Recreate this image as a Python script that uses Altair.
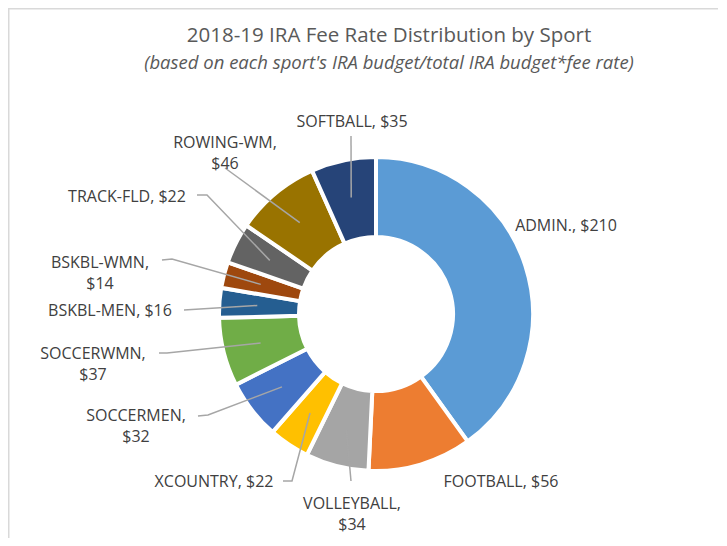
import math
import pandas as pd
import altair as alt

# ---- data ----
sports = ["ADMIN.", "FOOTBALL", "VOLLEYBALL", "XCOUNTRY", "SOCCERMEN", "SOCCERWMN",
          "BSKBL-MEN", "BSKBL-WMN", "TRACK-FLD", "ROWING-WM", "SOFTBALL"]
fees = [210, 56, 34, 22, 32, 37, 16, 14, 22, 46, 35]
colors = ["#5B9BD5", "#ED7D31", "#A5A5A5", "#FFC000", "#4472C4", "#70AD47",
          "#255E91", "#9E480E", "#636363", "#997300", "#264478"]

title = "2018-19 IRA Fee Rate Distribution by Sport"
subtitle = "(based on each sport's IRA budget/total IRA budget*fee rate)"

# ---- layout (pixels, relative to donut centre) ----
W, H = 710, 530
CX, CY = 368, 306
R_OUT, R_IN, R_LEAD = 157, 77, 119
FONT = "Open Sans"

# label centre (dx, dy), wrapped?, leader start, leader elbow
LABEL_LAYOUT = {
    "ADMIN.":     ((190, -88), False, None, None),
    "FOOTBALL":   ((125, 168), False, None, None),
    "VOLLEYBALL": ((-24, 190), True, (-25, 167), None),
    "XCOUNTRY":   ((-162, 168), False, (-93, 167), (-84, 167)),
    "SOCCERMEN":  ((-240, 102), True, (-178, 102), (-168, 101)),
    "SOCCERWMN":  ((-283, 40), True, (-217, 39), (-209, 39)),
    "BSKBL-MEN":  ((-266, -3), False, (-192, -4), None),
    "BSKBL-WMN":  ((-276, -51.5), True, (-214, -54), (-204, -55)),
    "TRACK-FLD":  ((-249, -117), False, (-179, -119), (-169, -119)),
    "ROWING-WM":  ((-151, -171.5), True, (-151, -146), None),
    "SOFTBALL":   ((-24, -192), False, (-25, -178), None),
}

arc_df = pd.DataFrame({"sport": sports, "fee": fees, "idx": list(range(len(sports)))})

total = sum(fees)
label_rows, line_rows = [], []
cum = 0
for s, v in zip(sports, fees):
    mid = (cum + v / 2) / total * 2 * math.pi
    cum += v
    (lx, ly), wrap, start, elbow = LABEL_LAYOUT[s]
    sep = "\n" if wrap else " "
    label_rows.append({"sport": s, "x": lx, "y": ly, "label": f"{s},{sep}${v}"})
    if start is not None:
        pts = [start] + ([elbow] if elbow else []) + \
              [(R_LEAD * math.sin(mid), -R_LEAD * math.cos(mid))]
        for k, (px, py) in enumerate(pts):
            line_rows.append({"sport": s, "k": k, "x": px, "y": py})

lab_df = pd.DataFrame(label_rows)
line_df = pd.DataFrame(line_rows)

xs = alt.Scale(domain=[-CX, W - CX], range=[0, W], nice=False, zero=False)
ys = alt.Scale(domain=[-CY, H - CY], range=[0, H], nice=False, zero=False)

arcs = alt.Chart(arc_df).mark_arc(
    outerRadius=R_OUT, innerRadius=R_IN, stroke="white", strokeWidth=4
).encode(
    theta=alt.Theta("fee:Q", stack=True),
    order=alt.Order("idx:Q"),
    color=alt.Color("sport:N", scale=alt.Scale(domain=sports, range=colors), legend=None),
    x=alt.value(CX),
    y=alt.value(CY),
)

leaders = alt.Chart(line_df).mark_line(color="#A6A6A6", strokeWidth=1.5).encode(
    x=alt.X("x:Q", scale=xs, axis=None),
    y=alt.Y("y:Q", scale=ys, axis=None),
    detail="sport:N",
    order="k:Q",
)

labels = alt.Chart(lab_df).mark_text(
    font=FONT, fontSize=16, color="#404040", lineBreak="\n", lineHeight=21,
    align="center", baseline="middle"
).encode(
    x=alt.X("x:Q", scale=xs, axis=None),
    y=alt.Y("y:Q", scale=ys, axis=None),
    text="label:N",
)

frame_df = pd.DataFrame({"a": [0]})
left_border = alt.Chart(frame_df).mark_rule(color="#D9D9D9", strokeWidth=1.5).encode(
    x=alt.value(0.75), y=alt.value(0), y2=alt.value(H))
top_border = alt.Chart(frame_df).mark_rule(color="#D9D9D9", strokeWidth=1.5).encode(
    x=alt.value(0), x2=alt.value(W), y=alt.value(0.75))

chart = alt.layer(left_border, top_border, arcs, leaders, labels).properties(
    width=W, height=H,
    autosize=alt.AutoSizeParams(type="none"),
    padding=0,
    background="white",
    title=alt.TitleParams(
        text=title, subtitle=subtitle,
        font=FONT, fontSize=20.5, fontWeight="normal", color="#595959",
        subtitleFont=FONT, subtitleFontSize=18.5, subtitleFontStyle="italic",
        subtitleColor="#595959", subtitlePadding=7,
        anchor="middle", dx=26, offset=-65,
    ),
).configure_view(stroke=None)

chart.save("out.html", embed_options={"renderer": "svg", "actions": False})
